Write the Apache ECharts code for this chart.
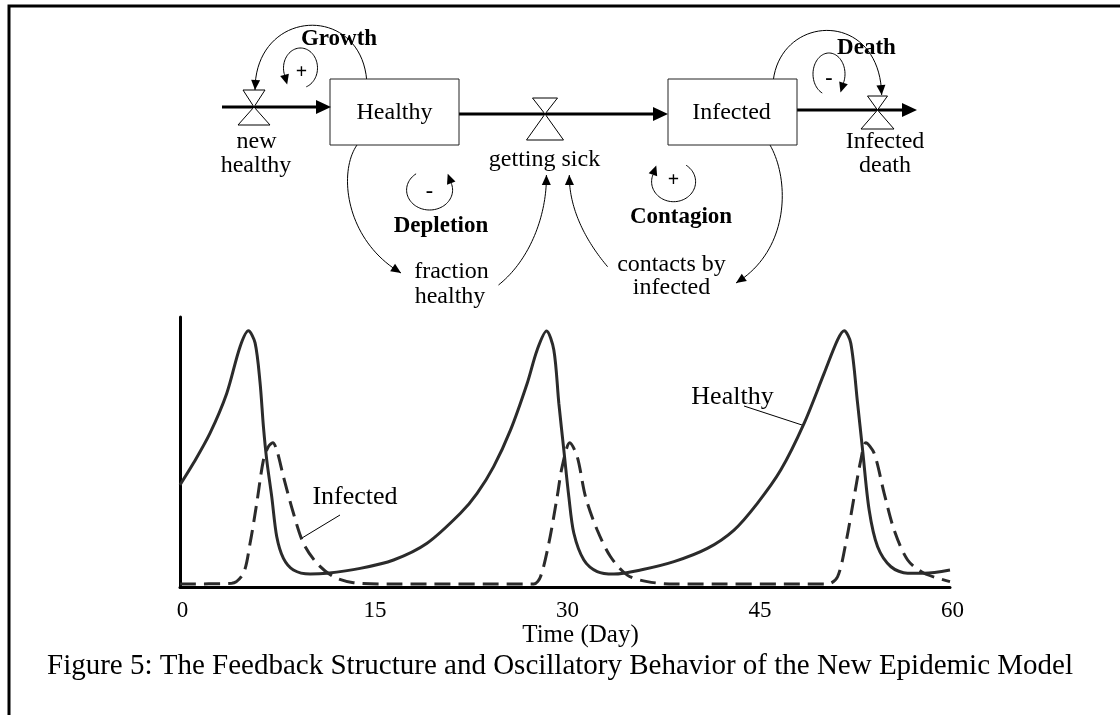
<!DOCTYPE html>
<html><head><meta charset="utf-8">
<script src="https://cdn.jsdelivr.net/npm/echarts@6/dist/echarts.min.js"></script>
<style>html,body{margin:0;padding:0;background:#fff;} #c{width:1120px;height:715px;}</style>
</head><body><div id="c"></div>
<script>
// ---- data ----
const xTicks = [0, 15, 30, 45, 60];
const healthyTime = [0, 1.04, 2.34, 3.64, 4.68, 5.33, 5.85, 6.24, 6.50, 6.76, 7.15, 7.54, 8.06, 8.84, 10.14, 11.45, 14.04, 16.64, 19.25, 21.85, 23.15, 24.44, 25.75, 27.05, 27.83, 28.56, 29.13, 29.52, 29.91, 30.30, 30.69, 31.47, 32.51, 33.81, 35.89, 38.49, 41.09, 43.17, 44.99, 46.81, 48.63, 50.19, 51.24, 51.75, 52.27, 52.80, 53.19, 53.70, 54.36, 55.40, 56.70, 57.99, 60];
const healthyValue = [37.8, 45.8, 57.0, 71.7, 89.0, 94.9, 90.4, 75.6, 59.4, 47.0, 33.4, 18.6, 10.6, 6.3, 4.8, 5.1, 6.9, 10.0, 16.2, 27.3, 34.7, 44.6, 58.1, 75.4, 87.8, 94.8, 87.8, 68.0, 50.7, 33.4, 19.9, 10.0, 5.7, 4.8, 6.3, 9.4, 14.3, 21.1, 31.0, 43.3, 60.6, 79.1, 91.5, 94.9, 90.3, 68.0, 50.7, 28.5, 14.9, 7.5, 5.1, 5.1, 6.3];
const infectedTime = [0, 4.03, 4.94, 5.46, 5.98, 6.50, 6.89, 7.23, 7.54, 8.06, 8.84, 9.62, 10.67, 11.96, 13.52, 16.64, 27.57, 28.09, 28.74, 29.39, 29.78, 30.37, 30.95, 31.60, 32.51, 33.55, 34.85, 36.41, 38.49, 50.46, 51.24, 51.88, 52.53, 53.05, 53.44, 54.09, 54.87, 55.65, 56.70, 57.99, 60];
const infectedValue = [1.1, 1.4, 5.1, 16.2, 31.0, 47.0, 52.0, 53.4, 50.7, 40.9, 27.3, 16.2, 8.8, 3.8, 1.6, 1.1, 1.1, 3.8, 16.2, 33.4, 44.6, 53.4, 48.3, 33.4, 21.1, 11.2, 4.4, 2.0, 1.1, 1.1, 3.8, 16.2, 33.4, 47.0, 53.4, 49.5, 34.7, 21.1, 10.0, 5.1, 2.0];
const seriesNames = ['Healthy', 'Infected'];
const xTitle = 'Time (Day)';
const caption = 'Figure 5: The Feedback Structure and Oscillatory Behavior of the New Epidemic Model';

// ---- helpers for the stock-and-flow diagram ----
const FONT = '"Liberation Serif", "Times New Roman", serif';
const INK = '#000';
function txt(x, y, s, size, bold) {
  return { type: 'text', x: x, y: y, silent: true, z: 10,
    style: { text: s, fill: INK, font: (bold ? 'bold ' : '') + size + 'px ' + FONT,
      textAlign: 'center', textVerticalAlign: 'middle', align: 'center', verticalAlign: 'middle' } };
}
function pline(points, w, color) {
  return { type: 'polyline', silent: true, shape: { points: points },
    style: { stroke: color || INK, lineWidth: w || 1, fill: null } };
}
function poly(points, fill, stroke, w) {
  return { type: 'polygon', silent: true, z: 5, shape: { points: points },
    style: { fill: fill, stroke: stroke || null, lineWidth: w || 0 } };
}
function cubic(p0, p1, p2, p3, n) {
  const pts = [];
  for (let i = 0; i <= n; i++) {
    const t = i / n, u = 1 - t;
    pts.push([u*u*u*p0[0] + 3*u*u*t*p1[0] + 3*u*t*t*p2[0] + t*t*t*p3[0],
              u*u*u*p0[1] + 3*u*u*t*p1[1] + 3*u*t*t*p2[1] + t*t*t*p3[1]]);
  }
  return pts;
}
function ellArc(cx, cy, rx, ry, a0, a1, n) {
  const pts = [];
  for (let i = 0; i <= n; i++) {
    const a = (a0 + (a1 - a0) * i / n) * Math.PI / 180;
    pts.push([cx + rx * Math.cos(a), cy + ry * Math.sin(a)]);
  }
  return pts;
}
function arrowTip(tip, dx, dy, len, hw) {
  const d = Math.hypot(dx, dy), ux = dx / d, uy = dy / d;
  const bx = tip[0] - ux * len, by = tip[1] - uy * len;
  return poly([tip, [bx - uy * hw, by + ux * hw], [bx + uy * hw, by - ux * hw]], INK);
}
function curveArrow(p0, p1, p2, p3) {
  const pts = cubic(p0, p1, p2, p3, 40);
  const a = pts[pts.length - 3], b = pts[pts.length - 1];
  return [pline(pts, 1), arrowTip(b, b[0] - a[0], b[1] - a[1], 10, 4.5)];
}
function loopArrow(cx, cy, rx, ry, a0, a1) {
  const pts = ellArc(cx, cy, rx, ry, a0, a1, 60);
  const a = pts[pts.length - 2], b = pts[pts.length - 1];
  const dx = b[0] - a[0], dy = b[1] - a[1], d = Math.hypot(dx, dy);
  const tip = [b[0] + dx / d * 10, b[1] + dy / d * 10];
  return [pline(pts, 1), arrowTip(tip, dx, dy, 10, 4.5)];
}
function valve(cx, cy, tw, th, bw, bh) {
  return [poly([[cx - tw / 2, cy - th], [cx + tw / 2, cy - th], [cx, cy]], '#fff', INK, 1),
          poly([[cx, cy], [cx - bw / 2, cy + bh], [cx + bw / 2, cy + bh]], '#fff', INK, 1)];
}
function flow(x0, x1, y) {
  return [ { type: 'line', silent: true, shape: { x1: x0, y1: y, x2: x1 - 12, y2: y }, style: { stroke: INK, lineWidth: 3 } },
           arrowTip([x1, y], 1, 0, 15, 7) ];
}
function stock(x, y, w, h) {
  return { type: 'rect', silent: true, z: 4, shape: { x: x, y: y, width: w, height: h },
    style: { fill: '#fff', stroke: '#222', lineWidth: 1 } };
}

const diagram = [].concat(
  [pline([[9, 715], [9, 6], [1120, 6]], 3)],
  curveArrow([366.7, 80], [360, 3], [255, 8], [255, 90]),
  curveArrow([773.3, 80], [782, 13], [880, 10], [881.7, 95]),
  curveArrow([357, 145], [338, 172], [345, 240], [401, 273]),
  curveArrow([498.5, 285], [530, 260], [547, 215], [546.4, 175]),
  curveArrow([607.6, 266.7], [585, 240], [569, 208], [569.3, 175]),
  curveArrow([770, 145], [790, 180], [790, 250], [736, 283]),
  loopArrow(300.5, 68, 17, 20, 70, -200),
  loopArrow(829, 74, 16, 21, 115, 385),
  loopArrow(429.6, 190, 23, 20, 234, -20),
  loopArrow(673.6, 181.7, 22, 20, -55, 200),
  flow(222, 331, 107),
  flow(459, 668, 114),
  flow(797, 917, 110),
  valve(254, 107, 22, 17, 32, 18),
  valve(545, 114, 25, 16, 37, 26),
  valve(877.5, 110, 20, 14, 33, 19),
  [stock(330, 79, 129, 66), stock(668, 79, 129, 66)],
  [
    txt(394.5, 113, 'Healthy', 24), txt(731.5, 113, 'Infected', 24),
    txt(256.5, 142, 'new', 24), txt(256, 166, 'healthy', 24),
    txt(544.5, 160, 'getting sick', 24),
    txt(885, 142, 'Infected', 24), txt(885, 166, 'death', 24),
    txt(451.5, 272, 'fraction', 24), txt(450, 297, 'healthy', 24),
    txt(671.5, 265, 'contacts by', 24), txt(671.5, 288, 'infected', 24),
    txt(339, 39, 'Growth', 23, true), txt(866.5, 48, 'Death', 23, true),
    txt(441, 226, 'Depletion', 23, true), txt(681, 217, 'Contagion', 23, true),
    txt(301.5, 73, '+', 20, true), txt(829, 78, '-', 22, true),
    txt(429.5, 191, '-', 22, true), txt(673.5, 181, '+', 20, true),
    txt(355, 497, seriesNames[1], 26), txt(732.5, 397, seriesNames[0], 26),
    pline([[340, 515], [302, 538]], 1), pline([[744, 406], [802, 425]], 1),
    txt(560, 666, caption, 29)
  ]
);

const chart = echarts.init(document.getElementById('c'), null, { renderer: 'canvas' });
chart.setOption({
  animation: false,
  backgroundColor: '#fff',
  grid: { left: 180, right: 170, top: 317, bottom: 128 },
  xAxis: {
    type: 'value', min: xTicks[0], max: xTicks[xTicks.length - 1], interval: xTicks[1] - xTicks[0],
    axisLine: { show: true, onZero: false, lineStyle: { color: '#000', width: 3 } },
    axisTick: { show: false }, splitLine: { show: false },
    axisLabel: { color: '#000', fontFamily: 'Liberation Serif', fontSize: 23, margin: 12, padding: [0, 0, 0, 5] },
    name: xTitle, nameLocation: 'middle', nameGap: 33,
    nameTextStyle: { color: '#000', fontFamily: 'Liberation Serif', fontSize: 25, padding: [0, 0, 0, 31] }
  },
  yAxis: {
    type: 'value', min: 0, max: 100,
    axisLine: { show: true, lineStyle: { color: '#000', width: 3 } },
    axisTick: { show: false }, axisLabel: { show: false }, splitLine: { show: false }
  },
  series: [
    { type: 'line', name: seriesNames[0], data: healthyTime.map((t, i) => [t, healthyValue[i]]),
      showSymbol: false, smooth: 0.3, lineStyle: { color: '#2b2b2b', width: 3 } },
    { type: 'line', name: seriesNames[1], data: infectedTime.map((t, i) => [t, infectedValue[i]]),
      showSymbol: false, smooth: 0.3, lineStyle: { color: '#2b2b2b', width: 3, type: [16, 8] } }
  ],
  graphic: { elements: diagram }
});
</script>
</body></html>
